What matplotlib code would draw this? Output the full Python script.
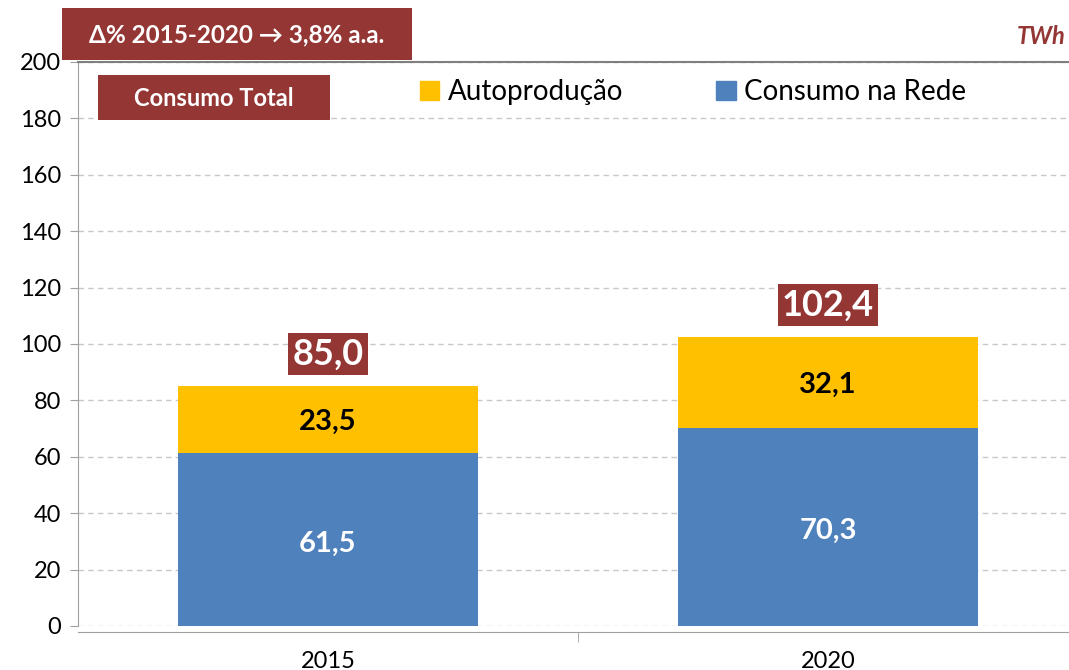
import numpy as np
import matplotlib.pyplot as plt
from matplotlib.patches import Patch, Rectangle

plt.rcParams['font.family'] = ['Lato', 'DejaVu Sans']

# data
anos = ['2015', '2020']
rede = [61.5, 70.3]
autoprod = [23.5, 32.1]
totais = [85.0, 102.4]
yticks = [0, 20, 40, 60, 80, 100, 120, 140, 160, 180, 200]

AZUL = '#4F81BD'
AMARELO = '#FFC000'
VERMELHO = '#943634'


def fmt(v):
    return f'{v:.1f}'.replace('.', ',')


def caixa(fig, x0, y0, x1, y1, W, H):
    # retangulo em pixels (origem no topo)
    fig.add_artist(Rectangle((x0 / W, 1 - y1 / H), (x1 - x0) / W, (y1 - y0) / H,
                             transform=fig.transFigure, fc=VERMELHO, ec='none', zorder=5))


def main():
    fig = plt.figure(figsize=(10.69, 6.70), dpi=100)
    W, H = 1069, 670
    # axes: x 78 -> 1078 px, y 62 -> 626 px
    ax = fig.add_axes([78 / W, 1 - 626 / H, 1000 / W, 564 / H])

    x = np.arange(len(anos))
    ax.bar(x, rede, width=0.6, color=AZUL, zorder=3, label='Consumo na Rede')
    ax.bar(x, autoprod, width=0.6, bottom=rede, color=AMARELO, zorder=3, label='Autoprodução')

    for i in range(len(anos)):
        ax.text(x[i], rede[i] / 2 - 1.5, fmt(rede[i]), ha='center', va='center',
                color='white', fontsize=21, fontweight='bold', zorder=4)
        ax.text(x[i], rede[i] + autoprod[i] / 2 - 1, fmt(autoprod[i]), ha='center', va='center',
                color='black', fontsize=21, fontweight='bold', zorder=4)
        ax.text(x[i], totais[i] + 11.5, fmt(totais[i]), ha='center', va='center',
                color='white', fontsize=26, fontweight='bold', zorder=4,
                bbox=dict(boxstyle='square,pad=0.12', fc=VERMELHO, ec='none'))

    ax.set_xlim(-0.5, 1.5)
    ax.set_ylim(0, 200)
    ax.set_yticks(yticks)
    ax.set_xticks(x)
    ax.set_xticklabels(anos)
    ax.set_xticks([0.5], minor=True)
    ax.tick_params(axis='x', which='major', length=0, pad=14, labelsize=17)
    ax.tick_params(axis='x', which='minor', length=7, color='#A0A0A0', direction='out')
    ax.tick_params(axis='y', length=6, color='#A0A0A0', labelsize=17, pad=6)
    ax.grid(axis='y', linestyle=(0, (4, 3)), color='#C8C8C8', linewidth=1, zorder=0)
    for s in ['left', 'bottom']:
        ax.spines[s].set_color('#A0A0A0')
    ax.spines['bottom'].set_position(('outward', 4))
    ax.spines['right'].set_visible(False)
    ax.spines['top'].set_color('#7F7F7F')
    ax.spines['top'].set_linewidth(1.5)

    handles = [Patch(color=AMARELO, label='Autoprodução'),
               Patch(color=AZUL, label='Consumo na Rede')]
    fig.legend(handles=handles, loc='center left', bbox_to_anchor=(406 / W, 1 - 92 / H),
               ncol=2, frameon=False, fontsize=20, handlelength=0.7, handleheight=0.7,
               handletextpad=0.3, columnspacing=3.35, borderpad=0)

    caixa(fig, 62, 8, 412, 60, W, H)
    fig.text(237 / W, 1 - 35 / H, 'Δ% 2015-2020 → 3,8% a.a.', ha='center', va='center',
             color='white', fontsize=17.5, fontweight='bold', zorder=6)
    caixa(fig, 98, 75, 330, 120, W, H)
    fig.text(214 / W, 1 - 98 / H, 'Consumo Total', ha='center', va='center',
             color='white', fontsize=17, fontweight='bold', zorder=6)
    fig.text(1066 / W, 1 - 37 / H, 'TWh', ha='right', va='center', color=VERMELHO,
             fontsize=17, fontweight='bold', fontstyle='italic')

    fig.savefig('out.png', dpi=100)


if __name__ == '__main__':
    main()
